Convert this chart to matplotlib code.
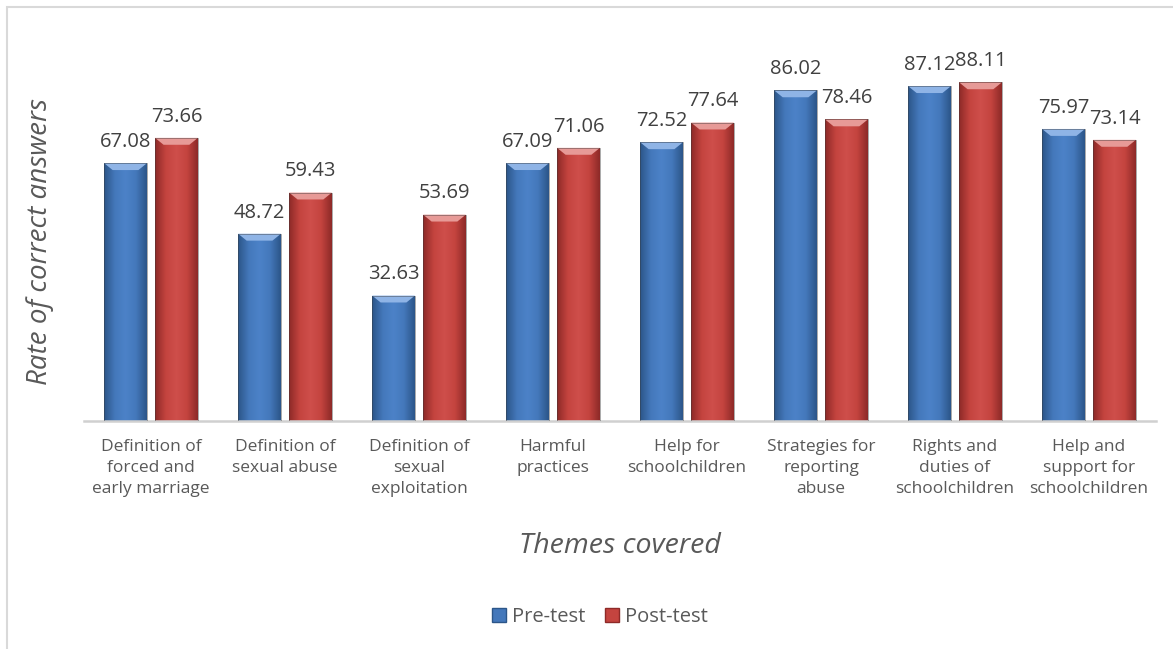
import numpy as np
import matplotlib.pyplot as plt
from matplotlib.patches import Rectangle, Polygon
from matplotlib.colors import LinearSegmentedColormap

plt.rcParams['font.family'] = ['Open Sans', 'DejaVu Sans']

# 数据
themes = ['Definition of\nforced and\nearly marriage', 'Definition of\nsexual abuse',
          'Definition of\nsexual\nexploitation', 'Harmful\npractices',
          'Help for\nschoolchildren', 'Strategies for\nreporting\nabuse',
          'Rights and\nduties of\nschoolchildren', 'Help and\nsupport for\nschoolchildren']
pre_test = [67.08, 48.72, 32.63, 67.09, 72.52, 86.02, 87.12, 75.97]
post_test = [73.66, 59.43, 53.69, 71.06, 77.64, 78.46, 88.11, 73.14]

text_gray = '#595959'
blue_cmap = LinearSegmentedColormap.from_list('b', ['#2c5689', '#4478bb', '#4c82c8', '#4478bb', '#2c5689'])
red_cmap = LinearSegmentedColormap.from_list('r', ['#8e2a28', '#c4443f', '#cf4f4b', '#c4443f', '#8e2a28'])


def shaded_bar(ax, x, h, w, cmap, top_color):
    # 横向渐变填充柱体
    grad = np.linspace(0, 1, 64).reshape(1, -1)
    rect = Rectangle((x - w / 2, 0), w, h, facecolor='none', edgecolor='none')
    ax.add_patch(rect)
    im = ax.imshow(grad, cmap=cmap, aspect='auto', extent=(x - w / 2, x + w / 2, 0, h),
                   zorder=2, interpolation='bicubic')
    im.set_clip_path(rect)
    # 顶部斜面
    bev = 1.8
    dx = w * 0.2
    top = Polygon([(x - w / 2, h), (x + w / 2, h), (x + w / 2 - dx, h - bev), (x - w / 2 + dx, h - bev)],
                  closed=True, facecolor=top_color, edgecolor='none', zorder=3)
    ax.add_patch(top)
    ax.add_patch(Rectangle((x - w / 2, 0), w, h, facecolor='none', edgecolor='#3a3a3a',
                           linewidth=0.6, alpha=0.5, zorder=4))


fig = plt.figure(figsize=(11.73, 6.49), dpi=100)
fig.patches.append(Rectangle((7 / 1173, -0.1), 1.2, (649 - 7) / 649 + 0.1, transform=fig.transFigure,
                             facecolor='none', edgecolor='#d9d9d9', linewidth=1.5))

ax = fig.add_axes([84 / 1173, (649 - 421) / 649, (1156 - 84) / 1173, (421 - 36.6) / 649])
n = len(themes)
x = np.arange(n)
w = 0.32
off = 0.19

for i in range(n):
    shaded_bar(ax, x[i] - off, pre_test[i], w, blue_cmap, '#8fb4e6')
    shaded_bar(ax, x[i] + off, post_test[i], w, red_cmap, '#e79a97')
    ax.text(x[i] - off, pre_test[i] + 4.2, f'{pre_test[i]:.2f}', ha='center', va='baseline',
            fontsize=14.5, color='#404040')
    ax.text(x[i] + off, post_test[i] + 4.2, f'{post_test[i]:.2f}', ha='center', va='baseline',
            fontsize=14.5, color='#404040')

ax.set_xlim(-0.5, n - 0.5)
ax.set_ylim(0, 100)
ax.set_xticks(x)
ax.set_xticklabels(themes, fontsize=12.5, color=text_gray, linespacing=1.42)
ax.tick_params(axis='x', length=0, pad=13)
ax.set_yticks([])
for s in ['top', 'right', 'left']:
    ax.spines[s].set_visible(False)
ax.spines['bottom'].set_color('#d0d0d0')
ax.spines['bottom'].set_linewidth(1.8)

fig.text(40 / 1173, 1 - 241 / 649, 'Rate of correct answers', rotation=90, ha='center', va='center',
         fontsize=20, style='italic', color=text_gray)
fig.text(620 / 1173, 1 - 546 / 649, 'Themes covered', ha='center', va='center',
         fontsize=20.5, style='italic', color=text_gray)

# 图例
h1 = Rectangle((0, 0), 1, 1, facecolor='#4478bb', edgecolor='#2c5689')
h2 = Rectangle((0, 0), 1, 1, facecolor='#c4443f', edgecolor='#8e2a28')
fig.legend([h1, h2], ['Pre-test', 'Post-test'], loc='center', bbox_to_anchor=(600 / 1173, 1 - 617 / 649),
           ncol=2, frameon=False, fontsize=14.5, handlelength=0.7, handleheight=0.7, columnspacing=1.0,
           handletextpad=0.3, labelcolor=text_gray)

fig.savefig('out.png', dpi=100)
